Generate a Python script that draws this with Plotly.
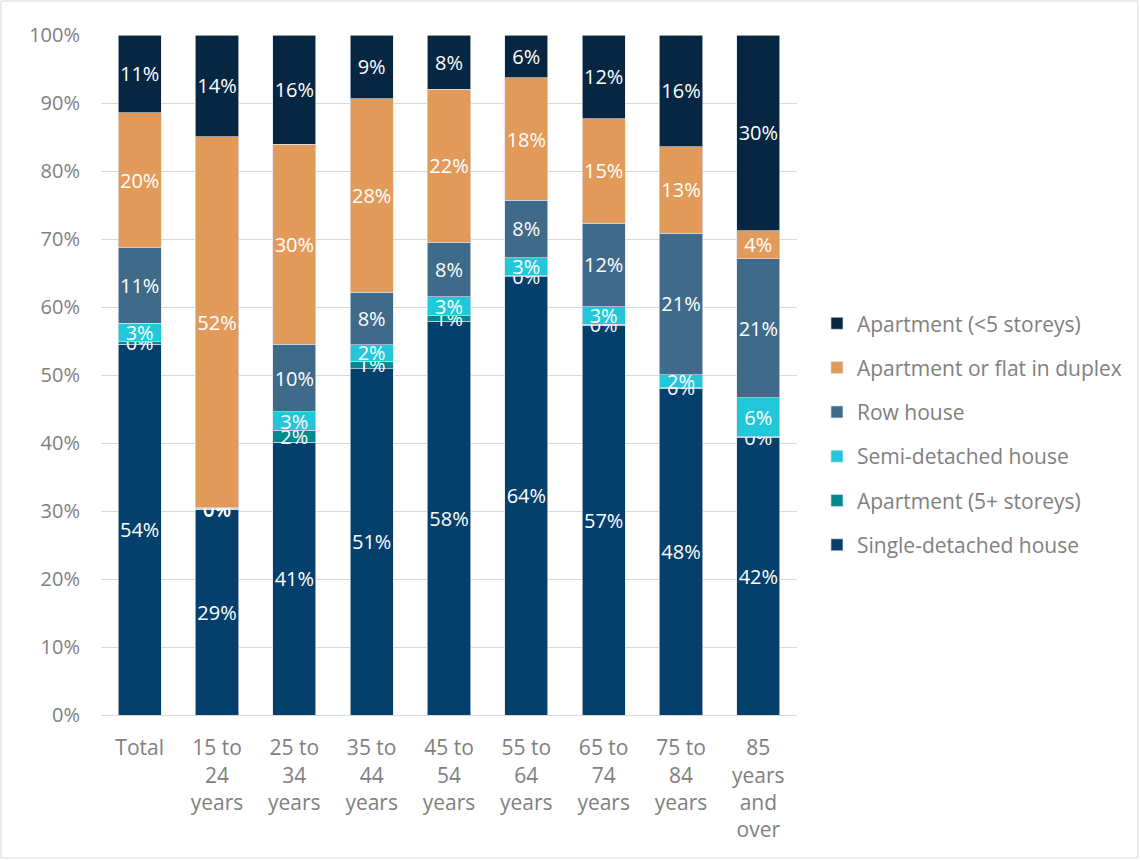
import plotly.graph_objects as go

categories = ["Total", "15 to<br>24<br>years", "25 to<br>34<br>years", "35 to<br>44<br>years",
              "45 to<br>54<br>years", "55 to<br>64<br>years", "65 to<br>74<br>years",
              "75 to<br>84<br>years", "85<br>years<br>and<br>over"]

single_detached = [54.4, 29.0, 40.9, 50.9, 57.9, 64.4, 57.4, 48.0, 42.1]
apt_5plus       = [0.4, 0.1, 1.8, 1.1, 0.8, 0.1, 0.1, 0.1, 0.1]
semi_detached   = [2.7, 0.1, 2.8, 2.4, 2.8, 2.7, 2.6, 1.9, 5.9]
row_house       = [11.1, 0.1, 10.1, 7.7, 8.0, 8.4, 12.3, 20.8, 21.1]
duplex          = [19.8, 52.4, 30.0, 28.4, 22.5, 18.0, 15.4, 12.7, 4.2]
apt_lt5         = [11.4, 14.4, 16.4, 9.4, 8.0, 6.3, 12.3, 16.4, 29.7]

series = [
    ("Single-detached house", single_detached, "#05406C"),
    ("Apartment (5+ storeys)", apt_5plus, "#008A90"),
    ("Semi-detached house", semi_detached, "#22C8DA"),
    ("Row house", row_house, "#406A8A"),
    ("Apartment or flat in duplex", duplex, "#E29A5A"),
    ("Apartment (<5 storeys)", apt_lt5, "#062642"),
]

FONT = "Open Sans, sans-serif"
FS = 20

fig = go.Figure()
n = len(series)
for i, (name, vals, color) in enumerate(series):
    fig.add_trace(go.Bar(
        x=categories, y=vals, name=name, legendgroup=f"g{i}", legendrank=n - i,
        marker=dict(color=color, line=dict(color="rgba(220,225,235,0.8)", width=0.8)),
        text=[f"{v:.0f}%" for v in vals],
        textposition="inside", insidetextanchor="middle", textangle=0,
        textfont=dict(color="white", size=FS, family=FONT),
        hoverinfo="skip",
    ))

fig.update_layout(
    barmode="stack", barnorm="percent", bargap=0.44,
    width=1140, height=860,
    margin=dict(l=101, r=343, t=35, b=145, autoexpand=False),
    paper_bgcolor="white", plot_bgcolor="white",
    font=dict(family=FONT, size=FS, color="#808080"),
    uniformtext=dict(minsize=FS, mode="show"),
    legend=dict(x=1.0287, xanchor="left", y=0.413, yanchor="middle",
                traceorder="grouped", tracegroupgap=14,
                font=dict(size=21, color="#808080", family=FONT)),
    showlegend=True,
)
fig.update_yaxes(range=[0, 100], dtick=10, ticksuffix="%", showgrid=True,
                 gridcolor="#d9d9d9", gridwidth=1, zeroline=False, automargin=False,
                 tickfont=dict(size=FS, color="#808080"), ticks="", ticklen=0,
                 ticklabelstandoff=20)
fig.update_xaxes(showline=True, linecolor="#d9d9d9", linewidth=1, automargin=False,
                 tickfont=dict(size=21, color="#808080"), ticks="",
                 ticklabelstandoff=14)
fig.add_shape(type="rect", xref="paper", yref="paper",
              x0=-0.1437, x1=1.4899, y0=-0.2103, y1=1.0500,
              line=dict(color="#d9d9d9", width=1), fillcolor="rgba(0,0,0,0)", layer="below")

fig.write_html("out.html", config={"displayModeBar": False},
               post_script="document.body.style.margin='0';document.body.style.overflow='hidden';")
